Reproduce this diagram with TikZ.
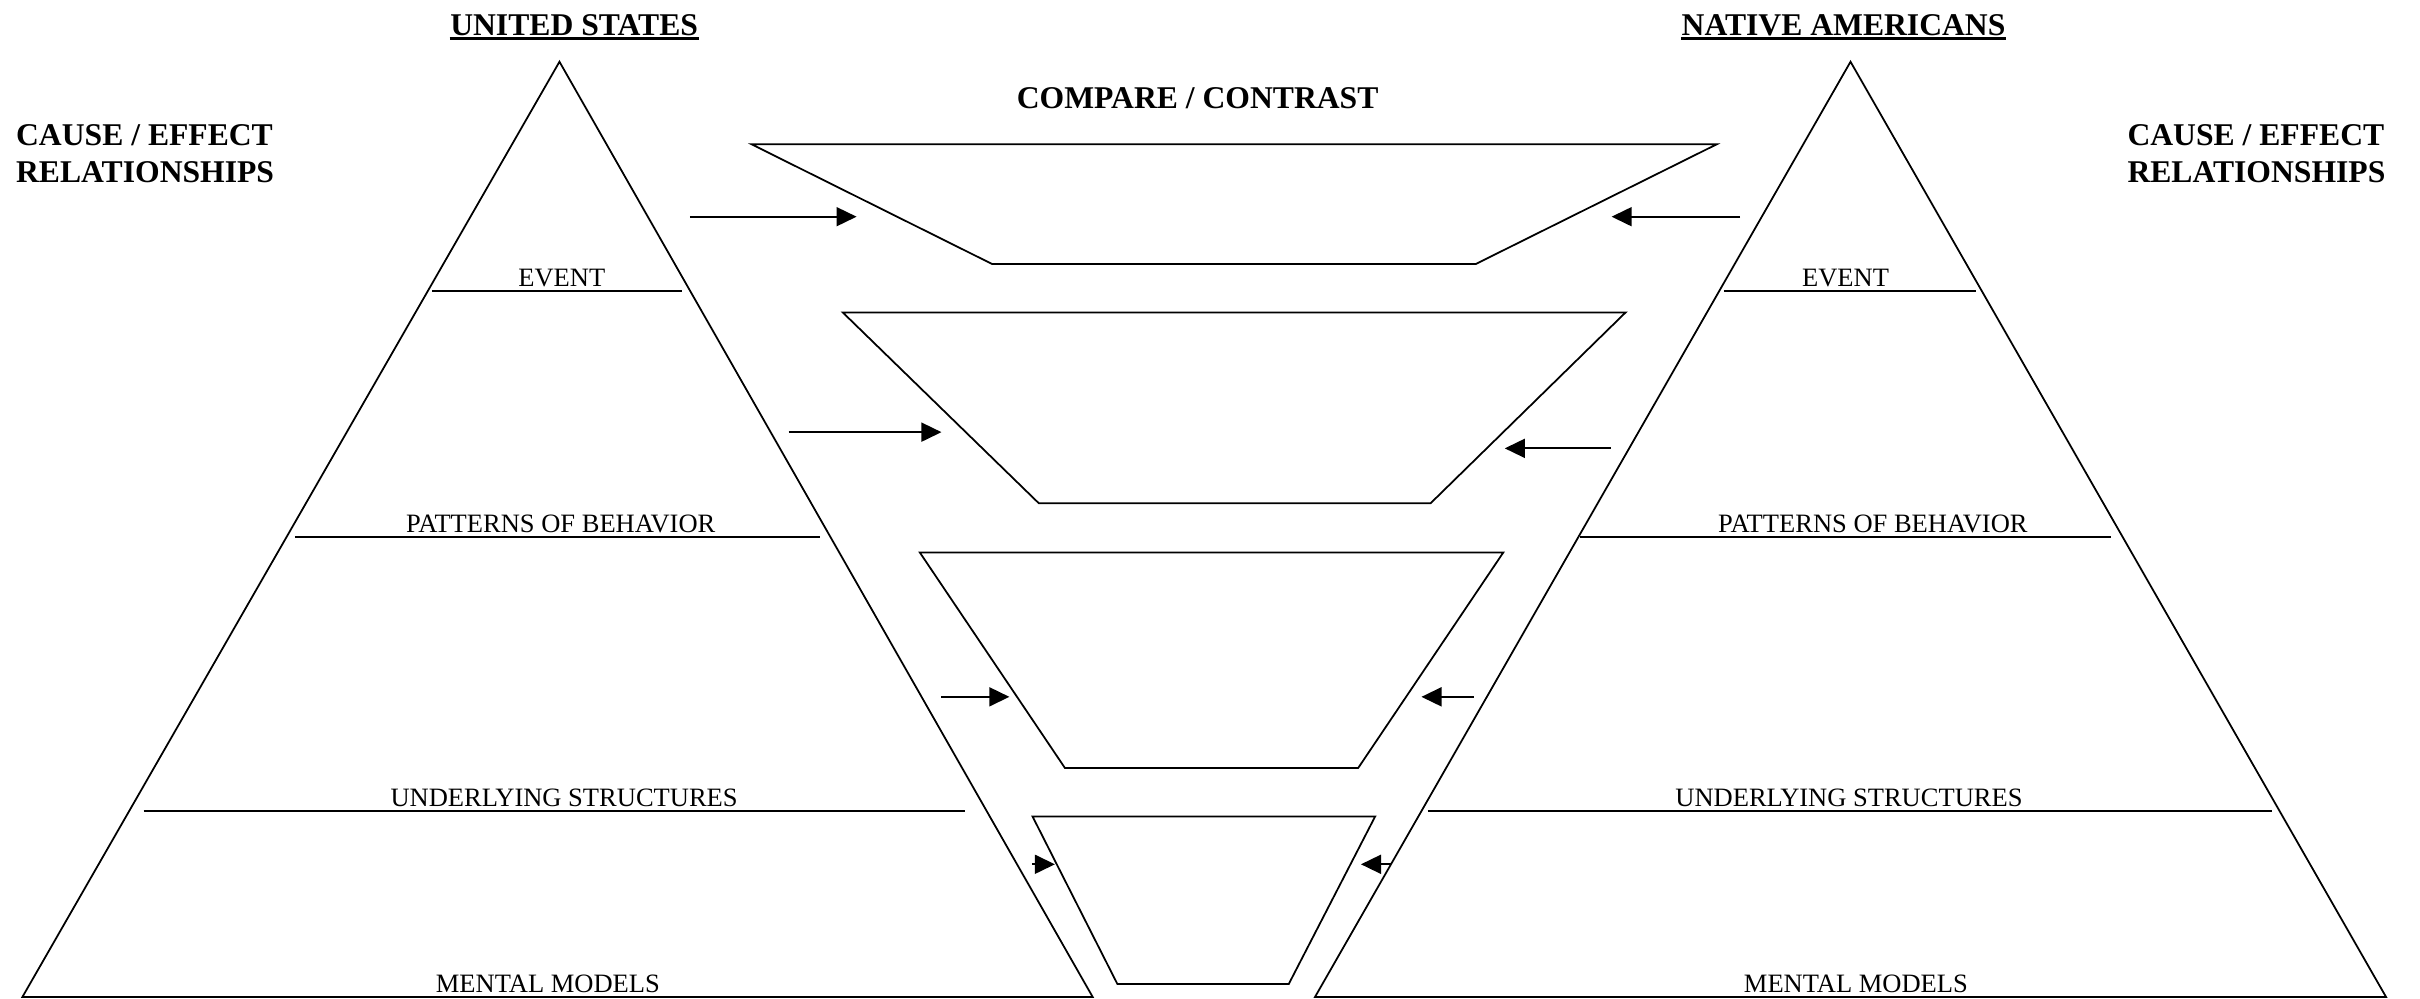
\documentclass[tikz,border=0pt]{standalone}
\usepackage{fontspec}
\setmainfont{Liberation Serif}
\usetikzlibrary{arrows.meta}

\begin{document}
\begin{tikzpicture}[x=0.015434cm, y=-0.015434cm,
    side/.style={line width=0.5pt, line join=miter},
    level/.style={line width=0.65pt},
    lbl/.style={font=\fontsize{7.54}{9}\selectfont, inner sep=0pt, anchor=base},
    head/.style={font=\bfseries\fontsize{9}{10.5}\selectfont, inner sep=0pt},
    arr/.style={line width=0.5pt, -{Triangle[length=5.7pt, width=5.4pt]}}]

    % Page frame
    \useasboundingbox (0,0) rectangle (1568,647);

    % Headings
    \node[head, anchor=base] (us) at (372,22.7) {UNITED STATES};
    \draw[line width=0.75pt] ([yshift=-1pt]us.base west) -- ([yshift=-1pt]us.base east);
    \node[head, anchor=base] (na) at (1194.5,22.7) {NATIVE AMERICANS};
    \draw[line width=0.75pt] ([yshift=-1pt]na.base west) -- ([yshift=-1pt]na.base east);
    \node[head, anchor=base] (compare) at (776,70) {COMPARE / CONTRAST};
    \node[head, anchor=north west, align=left] (causeL) at (10,80) {CAUSE / EFFECT\\RELATIONSHIPS};
    \node[head, anchor=north west, align=left] (causeR) at (1378,80) {CAUSE / EFFECT\\RELATIONSHIPS};

    % Left pyramid (United States)
    \coordinate (usTop) at (362.5,40);
    \coordinate (usL) at (14.5,646);
    \coordinate (usR) at (708,646);
    \draw[side] (usTop) -- (usL) -- (usR) -- cycle;

    \draw[level] (280,188.5) -- (442,188.5);
    \node[lbl] (usEvent) at (364,185.5) {EVENT};
    \draw[level] (191,348) -- (531,348);
    \node[lbl] (usPattern) at (363.3,345) {PATTERNS OF BEHAVIOR};
    \draw[level] (93,525.5) -- (625,525.5);
    \node[lbl] (usStruct) at (365.5,522.5) {UNDERLYING STRUCTURES};
    \node[lbl] (usModel) at (355,643) {MENTAL MODELS};

    % Right pyramid (Native Americans)
    \coordinate (naTop) at (1199,40);
    \coordinate (naL) at (852,646);
    \coordinate (naR) at (1546,646);
    \draw[side] (naTop) -- (naL) -- (naR) -- cycle;

    \draw[level] (1117,188.5) -- (1280,188.5);
    \node[lbl] (naEvent) at (1195.8,185.5) {EVENT};
    \draw[level] (1024,348) -- (1368,348);
    \node[lbl] (naPattern) at (1213.5,345) {PATTERNS OF BEHAVIOR};
    \draw[level] (925,525.5) -- (1472,525.5);
    \node[lbl] (naStruct) at (1198,522.5) {UNDERLYING STRUCTURES};
    \node[lbl] (naModel) at (1202.5,643) {MENTAL MODELS};

    % Compare / contrast funnels
    \draw[side] (487,93.5) -- (1112.3,93.5) -- (956.3,171) -- (642.7,171) -- cycle;
    \draw[side] (546,202.4) -- (1053.3,202.4) -- (927,326) -- (673,326) -- cycle;
    \draw[side] (596,358) -- (974,358) -- (880,497.6) -- (690,497.6) -- cycle;
    \draw[side] (669,529) -- (891,529) -- (835,637.6) -- (724,637.6) -- cycle;

    % Arrows into the funnels
    \coordinate (eventUS) at (447,140.4);
    \coordinate (eventUSin) at (555,140.4);
    \coordinate (eventNA) at (1127.4,140.4);
    \coordinate (eventNAin) at (1044.2,140.4);
    \draw[arr] (eventUS) -- (eventUSin);
    \draw[arr] (eventNA) -- (eventNAin);

    \coordinate (patternUS) at (511,280);
    \coordinate (patternUSin) at (610,280);
    \coordinate (patternNA) at (1043.6,290.5);
    \coordinate (patternNAin) at (975,290.5);
    \draw[arr] (patternUS) -- (patternUSin);
    \draw[arr] (patternNA) -- (patternNAin);

    \coordinate (structUS) at (609.7,451.5);
    \coordinate (structUSin) at (654,451.5);
    \coordinate (structNA) at (955,451.5);
    \coordinate (structNAin) at (921,451.5);
    \draw[arr] (structUS) -- (structUSin);
    \draw[arr] (structNA) -- (structNAin);

    \coordinate (modelUS) at (668.6,560);
    \coordinate (modelUSin) at (683.5,560);
    \coordinate (modelNA) at (901,560);
    \coordinate (modelNAin) at (881.8,560);
    \draw[arr] (modelUS) -- (modelUSin);
    \draw[arr] (modelNA) -- (modelNAin);

\end{tikzpicture}
\end{document}
